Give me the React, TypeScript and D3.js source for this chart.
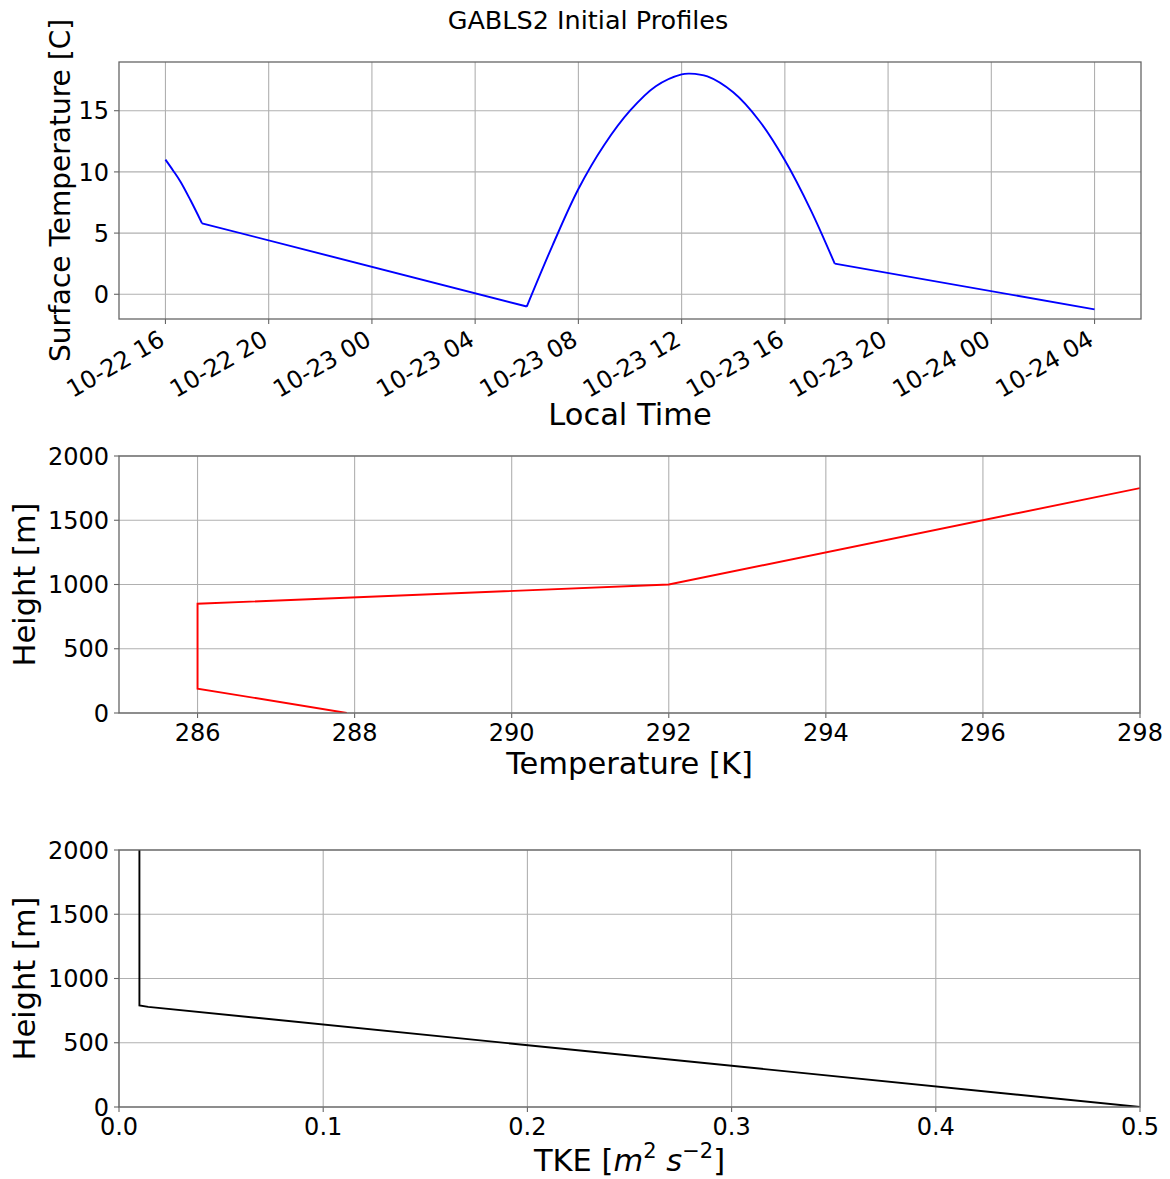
import React from 'react';
import * as d3 from 'd3';

// ---------- data ----------
const startTime = new Date(1999, 9, 22, 16, 0, 0);
// hours after 10-22 16:00 local time, and surface temperature [C]
const surfHours = [0, 0.3, 0.58, 0.97, 1.42, 14.0, 15.0, 16.0, 17.0, 18.0, 19.0, 20.0, 20.32, 21.0, 22.0, 23.0, 24.0, 25.0, 25.93, 36.0];
const surfTempC = [11.0, 10.1, 9.2, 7.7, 5.8, -1.0, 4.0, 8.6, 12.2, 15.0, 17.0, 17.97, 18.03, 17.8, 16.5, 14.2, 10.95, 6.9, 2.5, -1.23];
// kinks in the prescribed surface temperature (hours)
const surfKinks = [1.42, 14.0, 25.93];

const tempK = [287.9, 286.0, 286.0, 292.0, 298.0];
const tempHeight = [0, 190, 850, 1000, 1750];

const tke = [0.5, 0.0143, 0.01, 0.01];
const tkeHeight = [0, 779, 790, 2000];

const surfTicks = [0, 5, 10, 15];
const heightTicks = [0, 500, 1000, 1500, 2000];
const tempTicks = [286, 288, 290, 292, 294, 296, 298];
const tkeTicks = [0, 0.1, 0.2, 0.3, 0.4, 0.5];

// ---------- style ----------
const FONT = '"DejaVu Sans", sans-serif';
const TICK_FS = 24;
const LABEL_FS = 30.5;
const SPINE = '#666';
const GRID = '#b0b0b0';
const TICK_LEN = 5;
const PAD = 5;

const W = 1170;
const H = 1179;
const LEFT = 119;

const P1 = { top: 62, bottom: 319, right: 1141 };
const P2 = { top: 456, bottom: 713, right: 1140 };
const P3 = { top: 850, bottom: 1107, right: 1140 };

function Frame({ p }: { p: { top: number; bottom: number; right: number } }) {
  return (
    <rect x={LEFT} y={p.top} width={p.right - LEFT} height={p.bottom - p.top} fill="none" stroke={SPINE} strokeWidth={1.3} />
  );
}

function YAxis({ y, ticks, p }: any) {
  return (
    <g>
      {ticks.map((t: number) => (
        <g key={t}>
          <line x1={LEFT} x2={p.right} y1={y(t)} y2={y(t)} stroke={GRID} strokeWidth={1.1} />
          <line x1={LEFT - TICK_LEN} x2={LEFT} y1={y(t)} y2={y(t)} stroke={SPINE} strokeWidth={1.1} />
          <text x={LEFT - TICK_LEN - PAD} y={y(t)} dy="0.36em" textAnchor="end" fontSize={TICK_FS} fontFamily={FONT} fill="#000">
            {String(t)}
          </text>
        </g>
      ))}
    </g>
  );
}

function XGridTicks({ x, ticks, p }: any) {
  return (
    <g>
      {ticks.map((t: any, i: number) => (
        <g key={i}>
          <line x1={x(t)} x2={x(t)} y1={p.top} y2={p.bottom} stroke={GRID} strokeWidth={1.1} />
          <line x1={x(t)} x2={x(t)} y1={p.bottom} y2={p.bottom + TICK_LEN} stroke={SPINE} strokeWidth={1.1} />
        </g>
      ))}
    </g>
  );
}

export default function App() {
  // Panel 1: surface temperature vs local time
  const surfData = surfHours.map((h, i) => ({ h, t: d3.timeMinute.offset(startTime, Math.round(h * 60)), v: surfTempC[i] }));
  const tExt = d3.extent(surfData, (d) => d.t) as [Date, Date];
  const span = +tExt[1] - +tExt[0];
  const x1 = d3.scaleTime().domain([new Date(+tExt[0] - span * 0.05), new Date(+tExt[1] + span * 0.05)]).range([LEFT, P1.right]);
  const y1 = d3.scaleLinear().domain([-2.02, 18.98]).range([P1.bottom, P1.top]);
  const timeTicks = d3.timeHour.every(4)!.range(tExt[0], new Date(+tExt[1] + 1));
  const fmtTime = d3.timeFormat('%m-%d %H');
  const line1 = d3.line<any>().x((d) => x1(d.t)).y((d) => y1(d.v)).curve(d3.curveCatmullRom.alpha(0.5));
  // split into pieces at the kinks (each kink shared by both neighbours)
  const bounds = [surfHours[0], ...surfKinks, surfHours[surfHours.length - 1]];
  const pieces = bounds.slice(0, -1).map((b, i) => surfData.filter((d) => d.h >= b && d.h <= bounds[i + 1]));
  const path1 = pieces.map((p) => line1(p) || '').join(' ');

  // Panel 2: temperature profile
  const x2 = d3.scaleLinear().domain([285, 298]).range([LEFT, P2.right]);
  const y2 = d3.scaleLinear().domain([0, 2000]).range([P2.bottom, P2.top]);
  const prof2 = tempK.map((k, i) => [x2(k), y2(tempHeight[i])] as [number, number]);

  // Panel 3: TKE profile
  const x3 = d3.scaleLinear().domain([0, 0.5]).range([LEFT, P3.right]);
  const y3 = d3.scaleLinear().domain([0, 2000]).range([P3.bottom, P3.top]);
  const prof3 = tke.map((k, i) => [x3(k), y3(tkeHeight[i])] as [number, number]);

  const lineXY = d3.line();

  return (
    <div style={{ position: 'absolute', left: 0, top: 0 }}>
      <svg width={W} height={H} viewBox={`0 0 ${W} ${H}`} style={{ display: 'block', background: '#fff' }}>
        <rect width={W} height={H} fill="#fff" />
        <defs>
          <clipPath id="c1"><rect x={LEFT} y={P1.top} width={P1.right - LEFT} height={P1.bottom - P1.top} /></clipPath>
          <clipPath id="c2"><rect x={LEFT} y={P2.top} width={P2.right - LEFT} height={P2.bottom - P2.top} /></clipPath>
          <clipPath id="c3"><rect x={LEFT} y={P3.top} width={P3.right - LEFT} height={P3.bottom - P3.top} /></clipPath>
        </defs>
        <text x={588} y={29} textAnchor="middle" fontSize={25.5} fontFamily={FONT} fill="#000">GABLS2 Initial Profiles</text>

        {/* Panel 1 */}
        <XGridTicks x={x1} ticks={timeTicks} p={P1} />
        <YAxis y={y1} ticks={surfTicks} p={P1} />
        <path d={path1} fill="none" stroke="#0000ff" strokeWidth={1.9} strokeLinejoin="round" clipPath="url(#c1)" />
        <Frame p={P1} />
        {timeTicks.map((t, i) => (
          <text key={i} transform={`translate(${x1(t) - 8},${P1.bottom + 10}) rotate(-30)`} dy="0.73em" textAnchor="end" fontSize={TICK_FS} fontFamily={FONT} fill="#000">
            {fmtTime(t)}
          </text>
        ))}
        <text x={(LEFT + P1.right) / 2} y={425} textAnchor="middle" fontSize={LABEL_FS} fontFamily={FONT} fill="#000">Local Time</text>
        <text transform={`translate(70,${(P1.top + P1.bottom) / 2}) rotate(-90)`} textAnchor="middle" fontSize={28} fontFamily={FONT} fill="#000">Surface Temperature [C]</text>

        {/* Panel 2 */}
        <XGridTicks x={x2} ticks={tempTicks} p={P2} />
        <YAxis y={y2} ticks={heightTicks} p={P2} />
        <path d={lineXY(prof2) || ''} fill="none" stroke="#ff0000" strokeWidth={1.9} clipPath="url(#c2)" />
        <Frame p={P2} />
        {tempTicks.map((t) => (
          <text key={t} x={x2(t)} y={P2.bottom + TICK_LEN + PAD} dy="0.76em" textAnchor="middle" fontSize={TICK_FS} fontFamily={FONT} fill="#000">{t}</text>
        ))}
        <text x={(LEFT + P2.right) / 2} y={774} textAnchor="middle" fontSize={LABEL_FS} fontFamily={FONT} fill="#000">Temperature [K]</text>
        <text transform={`translate(35,${(P2.top + P2.bottom) / 2}) rotate(-90)`} textAnchor="middle" fontSize={LABEL_FS} fontFamily={FONT} fill="#000">Height [m]</text>

        {/* Panel 3 */}
        <XGridTicks x={x3} ticks={tkeTicks} p={P3} />
        <YAxis y={y3} ticks={heightTicks} p={P3} />
        <path d={lineXY(prof3) || ''} fill="none" stroke="#000" strokeWidth={1.9} clipPath="url(#c3)" />
        <Frame p={P3} />
        {tkeTicks.map((t) => (
          <text key={t} x={x3(t)} y={P3.bottom + TICK_LEN + PAD} dy="0.76em" textAnchor="middle" fontSize={TICK_FS} fontFamily={FONT} fill="#000">{t.toFixed(1)}</text>
        ))}
        <text x={(LEFT + P3.right) / 2} y={1171} textAnchor="middle" fontSize={LABEL_FS} fontFamily={FONT} fill="#000">
          <tspan>TKE [</tspan>
          <tspan fontStyle="italic">m</tspan>
          <tspan fontSize={21} dy={-13}>2</tspan>
          <tspan dy={13}> </tspan>
          <tspan fontStyle="italic">s</tspan>
          <tspan fontSize={21} dy={-13}>−2</tspan>
          <tspan dy={13}>]</tspan>
        </text>
        <text transform={`translate(35,${(P3.top + P3.bottom) / 2}) rotate(-90)`} textAnchor="middle" fontSize={LABEL_FS} fontFamily={FONT} fill="#000">Height [m]</text>
      </svg>
    </div>
  );
}
